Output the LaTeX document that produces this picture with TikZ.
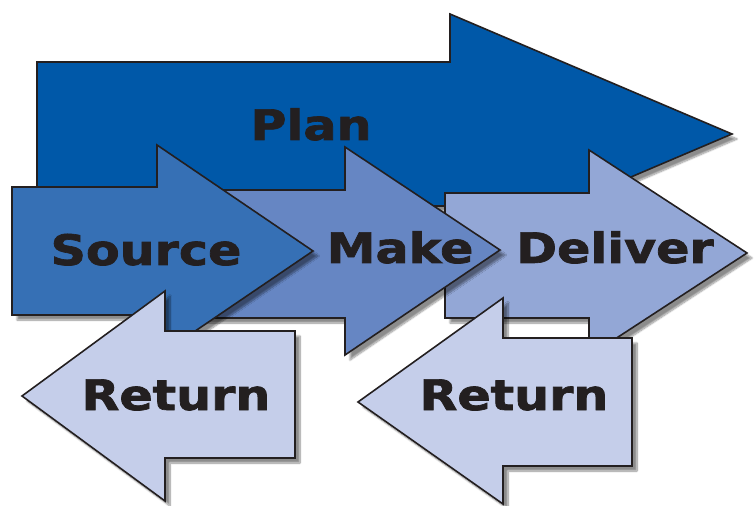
\documentclass[tikz,border=0pt]{standalone}
\usepackage{fontspec}
\newfontfamily\lblfont{DejaVu Sans}[BoldFeatures={FakeBold=1.6}]
\usetikzlibrary{shadows.blur}
\definecolor{plancol}{RGB}{0,88,168}
\definecolor{sourcecol}{RGB}{54,112,181}
\definecolor{makecol}{RGB}{102,134,195}
\definecolor{delivercol}{RGB}{147,167,214}
\definecolor{returncol}{RGB}{197,206,234}
\definecolor{inkcol}{RGB}{35,31,32}
\tikzset{
    blk/.style={draw=inkcol, line width=1.6bp, line join=miter,
        blur shadow={shadow xshift=5bp, shadow yshift=-5bp, shadow blur steps=10, shadow opacity=45}},
    lbl/.style={anchor=base, inner sep=0pt, xscale=1.17, text=inkcol,
        font=\lblfont\bfseries\fontsize{42bp}{42bp}\selectfont}
}
\begin{document}
\begin{tikzpicture}[x=1bp,y=-1bp]
    \useasboundingbox (0,0) rectangle (754,506);
    \draw[blk,fill=plancol] (37,62)--(450,62)--(450,14)--(732,134)--(450,254)--(450,206)--(37,206)--cycle;
    \draw[blk,fill=delivercol] (445,193)--(589,193)--(589,150)--(747,253)--(589,356)--(589,318)--(445,318)--cycle;
    \draw[blk,fill=makecol] (200,190)--(345,190)--(345,147)--(500,250)--(345,355)--(345,318)--(200,318)--cycle;
    \draw[blk,fill=sourcecol] (12,187)--(157,187)--(157,145)--(313,251)--(157,357)--(157,315)--(12,315)--cycle;
    \draw[blk,fill=returncol] (295,331)--(165,331)--(165,291)--(22,396)--(165,501)--(165,458)--(295,458)--cycle;
    \draw[blk,fill=returncol] (632,338)--(503,338)--(503,298)--(358,402)--(503,504)--(503,466)--(632,466)--cycle;
    \node[lbl] (plan) at (311,140) {Plan};
    \node[lbl] (source) at (146,265) {Source};
    \node[lbl] (make) at (400,263) {Make};
    \node[lbl] (deliver) at (615,263) {Deliver};
    \node[lbl] (returnl) at (176,410) {Return};
    \node[lbl] (returnr) at (514,410) {Return};
\end{tikzpicture}
\end{document}
